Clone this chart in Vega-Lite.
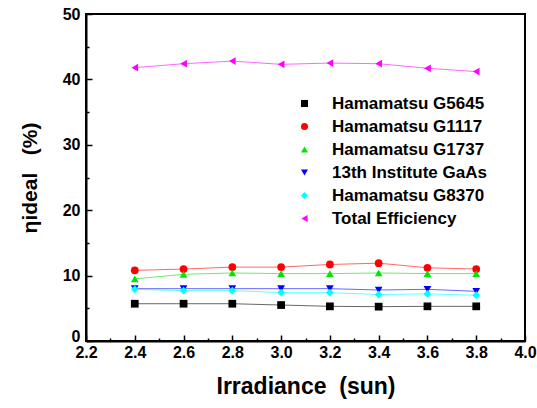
{
  "$schema": "https://vega.github.io/schema/vega-lite/v6.json",
  "width": 439,
  "height": 327,
  "autosize": {"type": "none"},
  "padding": {"left": 86, "top": 14, "right": 12, "bottom": 67},
  "background": "white",
  "config": {
    "view": {"stroke": "black", "strokeWidth": 2},
    "font": "Liberation Sans"
  },
  "data": {
    "values": [
      {"x": 2.4, "s": "Hamamatsu G5645", "y": 5.7},
      {"x": 2.6, "s": "Hamamatsu G5645", "y": 5.7},
      {"x": 2.8, "s": "Hamamatsu G5645", "y": 5.7},
      {"x": 3.0, "s": "Hamamatsu G5645", "y": 5.5},
      {"x": 3.2, "s": "Hamamatsu G5645", "y": 5.3},
      {"x": 3.4, "s": "Hamamatsu G5645", "y": 5.25},
      {"x": 3.6, "s": "Hamamatsu G5645", "y": 5.3},
      {"x": 3.8, "s": "Hamamatsu G5645", "y": 5.3},
      {"x": 2.4, "s": "Hamamatsu G1117", "y": 10.8},
      {"x": 2.6, "s": "Hamamatsu G1117", "y": 11.0},
      {"x": 2.8, "s": "Hamamatsu G1117", "y": 11.3},
      {"x": 3.0, "s": "Hamamatsu G1117", "y": 11.3},
      {"x": 3.2, "s": "Hamamatsu G1117", "y": 11.7},
      {"x": 3.4, "s": "Hamamatsu G1117", "y": 11.9},
      {"x": 3.6, "s": "Hamamatsu G1117", "y": 11.2},
      {"x": 3.8, "s": "Hamamatsu G1117", "y": 11.0},
      {"x": 2.4, "s": "Hamamatsu G1737", "y": 9.5},
      {"x": 2.6, "s": "Hamamatsu G1737", "y": 10.2},
      {"x": 2.8, "s": "Hamamatsu G1737", "y": 10.4},
      {"x": 3.0, "s": "Hamamatsu G1737", "y": 10.3},
      {"x": 3.2, "s": "Hamamatsu G1737", "y": 10.3},
      {"x": 3.4, "s": "Hamamatsu G1737", "y": 10.4},
      {"x": 3.6, "s": "Hamamatsu G1737", "y": 10.3},
      {"x": 3.8, "s": "Hamamatsu G1737", "y": 10.3},
      {"x": 2.4, "s": "13th Institute GaAs", "y": 8.0},
      {"x": 2.6, "s": "13th Institute GaAs", "y": 8.0},
      {"x": 2.8, "s": "13th Institute GaAs", "y": 8.0},
      {"x": 3.0, "s": "13th Institute GaAs", "y": 8.0},
      {"x": 3.2, "s": "13th Institute GaAs", "y": 8.0},
      {"x": 3.4, "s": "13th Institute GaAs", "y": 7.8},
      {"x": 3.6, "s": "13th Institute GaAs", "y": 7.9},
      {"x": 3.8, "s": "13th Institute GaAs", "y": 7.6},
      {"x": 2.4, "s": "Hamamatsu G8370", "y": 7.9},
      {"x": 2.6, "s": "Hamamatsu G8370", "y": 7.7},
      {"x": 2.8, "s": "Hamamatsu G8370", "y": 7.7},
      {"x": 3.0, "s": "Hamamatsu G8370", "y": 7.4},
      {"x": 3.2, "s": "Hamamatsu G8370", "y": 7.4},
      {"x": 3.4, "s": "Hamamatsu G8370", "y": 7.1},
      {"x": 3.6, "s": "Hamamatsu G8370", "y": 7.2},
      {"x": 3.8, "s": "Hamamatsu G8370", "y": 7.0},
      {"x": 2.4, "s": "Total Efficiency", "y": 41.8},
      {"x": 2.6, "s": "Total Efficiency", "y": 42.4},
      {"x": 2.8, "s": "Total Efficiency", "y": 42.8},
      {"x": 3.0, "s": "Total Efficiency", "y": 42.3},
      {"x": 3.2, "s": "Total Efficiency", "y": 42.5},
      {"x": 3.4, "s": "Total Efficiency", "y": 42.4},
      {"x": 3.6, "s": "Total Efficiency", "y": 41.7},
      {"x": 3.8, "s": "Total Efficiency", "y": 41.2}
    ]
  },
  "encoding": {
    "x": {
      "field": "x", "type": "quantitative",
      "scale": {"domain": [2.2, 4.0], "nice": false, "zero": false},
      "axis": {
        "title": "Irradiance\u00a0\u00a0(sun)",
        "titleFontSize": 23, "titleFontWeight": "bold", "titleColor": "black", "titlePadding": 12,
        "values": [2.2, 2.3, 2.4, 2.5, 2.6, 2.7, 2.8, 2.9, 3.0, 3.1, 3.2, 3.3, 3.4, 3.5, 3.6, 3.7, 3.8, 3.9, 4.0],
        "labelExpr": "round(datum.value*10) % 2 == 0 ? format(datum.value, '.1f') : ''",
        "labelFontSize": 16, "labelFontWeight": "bold", "labelColor": "black",
        "labelPadding": 9, "labelFlush": false, "labelOverlap": false,
        "tickSize": {"condition": {"test": "round(datum.value*10) % 2 == 0", "value": -6}, "value": -3},
        "tickColor": "black", "tickWidth": 1.5,
        "domainColor": "black", "domainWidth": 2, "grid": false
      }
    },
    "y": {
      "field": "y", "type": "quantitative",
      "scale": {"domain": [0, 50], "nice": false},
      "axis": {
        "title": "ηideal\u00a0\u00a0\u00a0(%)",
        "titleFontSize": 21, "titleFontWeight": "bold", "titleColor": "black", "titlePadding": 22,
        "values": [0, 5, 10, 15, 20, 25, 30, 35, 40, 45, 50],
        "labelExpr": "datum.value % 10 == 0 ? datum.label : ''",
        "labelFontSize": 16, "labelFontWeight": "bold", "labelColor": "black",
        "labelPadding": 12, "labelFlush": false, "labelOverlap": false,
        "labelOffset": {"condition": {"test": "datum.value == 0", "value": -5}, "value": 0},
        "tickSize": {"condition": {"test": "datum.value % 10 == 0", "value": -6}, "value": -3},
        "tickColor": "black", "tickWidth": 1.5,
        "domainColor": "black", "domainWidth": 2, "grid": false
      }
    },
    "color": {
      "field": "s", "type": "nominal",
      "scale": {
        "domain": ["Hamamatsu G5645", "Hamamatsu G1117", "Hamamatsu G1737", "13th Institute GaAs", "Hamamatsu G8370", "Total Efficiency"],
        "range": ["#000000", "#ff0000", "#00e600", "#0000ff", "#00ffff", "#ff00ff"]
      },
      "legend": {
        "title": null, "orient": "none", "legendX": 210, "legendY": 81,
        "labelFontSize": 17, "labelFontWeight": "bold", "labelColor": "black",
        "labelOffset": 19, "rowPadding": 5, "symbolSize": 50, "symbolStrokeWidth": 0, "symbolOpacity": 1
      }
    }
  },
  "layer": [
    {
      "mark": {"type": "line", "strokeWidth": 1, "opacity": 0.6},
      "encoding": {"detail": {"field": "s"}}
    },
    {
      "mark": {"type": "point", "filled": true, "size": 60, "opacity": 1},
      "encoding": {
        "shape": {
          "field": "s", "type": "nominal",
          "scale": {
            "domain": ["Hamamatsu G5645", "Hamamatsu G1117", "Hamamatsu G1737", "13th Institute GaAs", "Hamamatsu G8370", "Total Efficiency"],
            "range": ["square", "circle", "triangle-up", "triangle-down", "diamond", "triangle-left"]
          },
          "legend": {
            "title": null, "orient": "none", "legendX": 210, "legendY": 81,
            "labelFontSize": 17, "labelFontWeight": "bold", "labelColor": "black",
            "labelOffset": 19, "rowPadding": 5, "symbolSize": 50, "symbolStrokeWidth": 0, "symbolOpacity": 1
          }
        }
      }
    }
  ]
}
